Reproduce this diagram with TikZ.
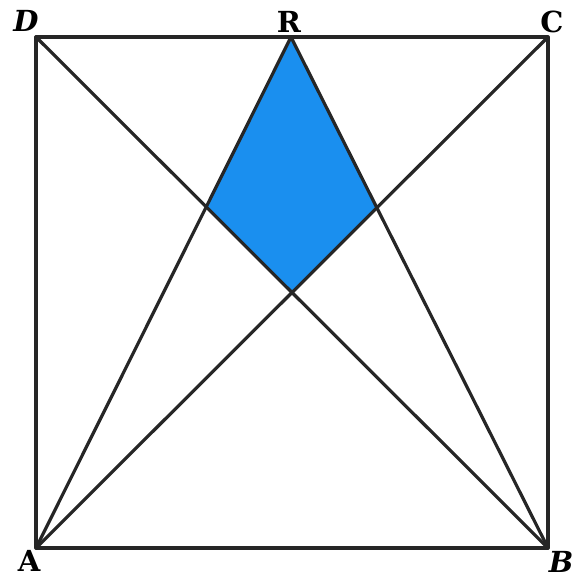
\documentclass[tikz,border=0pt]{standalone}
\usepackage{fontspec}
\usepackage{tikz}
\usetikzlibrary{calc}
\newfontfamily\labelfont{DejaVu Serif}
\definecolor{regionblue}{HTML}{1A8FEF}

\begin{document}
\begin{tikzpicture}[
    x=1pt, y=-1pt,
    edge/.style={line width=3.2pt, line join=round, line cap=round, draw=black!85},
    lbl/.style={font=\labelfont\fontsize{29}{29}\selectfont\bfseries, inner sep=0pt},
]
    \useasboundingbox (0,0) rectangle (581,579);
    % Corners of the square and the top midpoint
    \coordinate (A) at (36,548);
    \coordinate (B) at (548,548);
    \coordinate (C) at (548,37);
    \coordinate (D) at (36,37);
    \coordinate (R) at (291,37);

    % Intersection points
    \coordinate (P) at (intersection of A--R and B--D);
    \coordinate (Q) at (intersection of B--R and A--C);
    \coordinate (O) at (intersection of A--C and B--D);

    % Shaded region
    \fill[regionblue] (R) -- (P) -- (O) -- (Q) -- cycle;

    % Square and lines
    \draw[edge] (A) -- (B) -- (C) -- (D) -- cycle;
    \draw[edge] (A) -- (C);
    \draw[edge] (B) -- (D);
    \draw[edge] (A) -- (R);
    \draw[edge] (B) -- (R);

    % Labels
    \node[lbl] (lD) at (26,21) {\itshape D};
    \node[lbl] (lR) at (289,22) {R};
    \node[lbl] (lC) at (552,22) {C};
    \node[lbl] (lA) at (29,561) {A};
    \node[lbl] (lB) at (561,562) {\itshape B};
\end{tikzpicture}
\end{document}
